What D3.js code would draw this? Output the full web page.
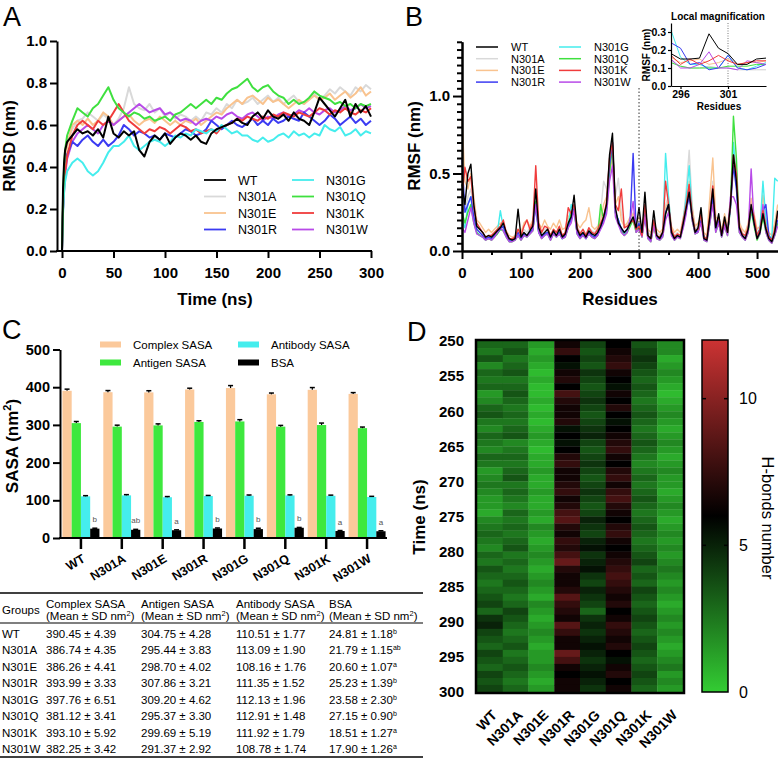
<!DOCTYPE html>
<html>
<head>
<meta charset="utf-8">
<script src="https://cdn.jsdelivr.net/npm/d3@7"></script>
<style>
body { margin: 0; background: #fff; }
svg { display: block; }
text { font-family: "Liberation Sans", Arial, Helvetica, sans-serif; }
</style>
</head>
<body>
<div id="fig"></div>
<script>
// ---------- shared ----------
var groups = ["WT", "N301A", "N301E", "N301R", "N301G", "N301Q", "N301K", "N301W"];
var groupColors = ["#000000", "#d9d9d9", "#f9c38f", "#3b3bf2", "#45eded", "#3fe03f", "#f03c3c", "#b84ae8"];

// ---------- A: RMSD ----------
var rmsdTime = [0,1,2,3,5,10,15,20,25,30,35,40,45,50,55,60,65,70,75,80,85,90,95,100,105,110,115,120,125,130,135,140,145,150,155,160,165,170,175,180,185,190,195,200,205,210,215,220,225,230,235,240,245,250,255,260,265,270,275,280,285,290,295,300];
var rmsdWT = [0,0.30,0.42,0.48,0.52, 0.55,0.58,0.56,0.57,0.55,0.58,0.54,0.64,0.56,0.54, 0.57,0.55,0.57,0.48,0.45,0.52,0.55,0.53,0.56,0.51, 0.54,0.56,0.55,0.53,0.55,0.52,0.51,0.56,0.58,0.59, 0.60,0.61,0.63,0.61,0.60,0.64,0.66,0.63,0.67,0.64, 0.63,0.65,0.62,0.66,0.63,0.62,0.60,0.66,0.73,0.70, 0.67,0.64,0.68,0.72,0.64,0.70,0.66,0.69,0.64];
var rmsdN301A = [0,0.25,0.38,0.45,0.52, 0.58,0.62,0.63,0.66,0.64,0.62,0.65,0.63,0.60,0.63, 0.68,0.78,0.70,0.68,0.67,0.70,0.66,0.68,0.64,0.66, 0.63,0.65,0.64,0.62,0.64,0.62,0.66,0.65,0.68,0.66, 0.70,0.68,0.72,0.70,0.71,0.73,0.70,0.72,0.74,0.71, 0.73,0.70,0.72,0.74,0.71,0.70,0.73,0.75,0.72,0.74, 0.77,0.75,0.78,0.76,0.74,0.78,0.76,0.79,0.77];
var rmsdN301E = [0,0.22,0.35,0.42,0.50, 0.60,0.62,0.60,0.63,0.60,0.62,0.66,0.64,0.60,0.62, 0.64,0.65,0.62,0.60,0.62,0.63,0.61,0.64,0.62,0.60, 0.62,0.60,0.62,0.61,0.63,0.60,0.62,0.64,0.66,0.65, 0.68,0.70,0.72,0.70,0.73,0.74,0.72,0.70,0.73,0.71, 0.72,0.70,0.68,0.70,0.72,0.70,0.72,0.74,0.72,0.73, 0.75,0.72,0.74,0.76,0.73,0.75,0.78,0.74,0.76];
var rmsdN301R = [0,0.20,0.32,0.40,0.46, 0.52,0.50,0.53,0.55,0.52,0.50,0.53,0.50,0.52,0.55, 0.60,0.58,0.55,0.57,0.56,0.54,0.55,0.53,0.56,0.55, 0.54,0.56,0.58,0.57,0.55,0.56,0.58,0.62,0.60,0.58, 0.60,0.62,0.60,0.59,0.61,0.63,0.60,0.62,0.60,0.63, 0.61,0.62,0.64,0.63,0.62,0.66,0.64,0.62,0.60,0.62, 0.65,0.63,0.60,0.62,0.64,0.61,0.63,0.60,0.62];
var rmsdN301G = [0,0.18,0.28,0.33,0.38, 0.42,0.44,0.42,0.38,0.36,0.38,0.42,0.47,0.50,0.50, 0.52,0.55,0.50,0.48,0.50,0.52,0.53,0.52,0.50,0.52, 0.55,0.54,0.56,0.55,0.58,0.57,0.56,0.58,0.57,0.60, 0.58,0.56,0.57,0.55,0.55,0.53,0.52,0.54,0.52,0.53, 0.55,0.56,0.54,0.57,0.55,0.56,0.54,0.56,0.55,0.60, 0.58,0.57,0.59,0.55,0.56,0.58,0.55,0.57,0.56];
var rmsdN301Q = [0,0.25,0.40,0.48,0.55, 0.62,0.68,0.66,0.64,0.68,0.70,0.74,0.78,0.72,0.68, 0.66,0.64,0.66,0.65,0.63,0.64,0.62,0.63,0.64,0.62, 0.65,0.66,0.68,0.70,0.68,0.70,0.72,0.70,0.73,0.72, 0.75,0.77,0.78,0.80,0.82,0.78,0.76,0.78,0.79,0.76, 0.74,0.73,0.70,0.72,0.70,0.71,0.73,0.76,0.74,0.73, 0.72,0.70,0.71,0.69,0.70,0.68,0.70,0.69,0.70];
var rmsdN301K = [0,0.20,0.30,0.38,0.45, 0.55,0.60,0.62,0.60,0.58,0.62,0.60,0.62,0.66,0.70, 0.66,0.62,0.60,0.58,0.56,0.58,0.57,0.59,0.58,0.56, 0.58,0.60,0.59,0.57,0.58,0.56,0.57,0.58,0.56,0.59, 0.60,0.61,0.63,0.62,0.64,0.63,0.62,0.64,0.63,0.65, 0.64,0.66,0.65,0.64,0.66,0.65,0.64,0.66,0.68,0.67, 0.65,0.67,0.66,0.68,0.66,0.65,0.67,0.66,0.68];
var rmsdN301W = [0,0.20,0.28,0.36,0.44, 0.52,0.56,0.58,0.60,0.58,0.56,0.60,0.62,0.60,0.62, 0.64,0.66,0.68,0.70,0.68,0.66,0.67,0.68,0.65,0.66, 0.64,0.62,0.63,0.62,0.60,0.62,0.63,0.62,0.64,0.63, 0.65,0.66,0.64,0.63,0.65,0.66,0.64,0.62,0.64,0.63, 0.65,0.66,0.64,0.65,0.67,0.66,0.68,0.66,0.65,0.67, 0.68,0.66,0.67,0.69,0.67,0.68,0.70,0.68,0.69];

// ---------- B: RMSF ----------
var rmsfResidue = [0,5,10,15,20,25,30,35,40,45,50,55,60,65,70,75,80,85,90,95,100,105,110,115,120,125,130,135,140,145,150,155,160,165,170,175,180,185,190,195,200,205,210,215,220,225,230,235,240,245,250,255,260,265,270,275,280,285,290,295,300,305,310,315,320,325,330,335,340,345,350,355,360,365,370,375,380,385,390,395,400,405,410,415,420,425,430,435,440,445,450,455,460,465,470,475,480,485,490,495,500,505,510,515,520,525,530,535];
var rmsfWT = [0.43,0.30,0.50,0.56,0.30,0.16,0.14,0.12,0.09,0.10, 0.09,0.11,0.13,0.15,0.18,0.12,0.08,0.07,0.08,0.27, 0.09,0.12,0.10,0.13,0.16,0.40,0.15,0.10,0.12,0.14, 0.09,0.13,0.10,0.14,0.09,0.11,0.18,0.22,0.36,0.14, 0.10,0.12,0.09,0.13,0.11,0.10,0.12,0.16,0.22,0.30, 0.62,0.76,0.28,0.18,0.15,0.12,0.14,0.18,0.22,0.15, 0.28,0.12,0.38,0.10,0.08,0.26,0.10,0.08,0.12,0.24, 0.30,0.12,0.08,0.10,0.09,0.18,0.28,0.38,0.22,0.12, 0.15,0.28,0.08,0.07,0.22,0.40,0.15,0.24,0.10,0.22, 0.12,0.30,0.62,0.45,0.15,0.10,0.08,0.14,0.30,0.18, 0.08,0.12,0.24,0.14,0.08,0.06,0.12,0.26];
var rmsfN301A = [0.30,0.25,0.35,0.40,0.25,0.15,0.12,0.10,0.08,0.09, 0.10,0.12,0.14,0.16,0.15,0.11,0.08,0.08,0.09,0.12, 0.10,0.14,0.12,0.15,0.18,0.35,0.16,0.12,0.14,0.15, 0.10,0.14,0.12,0.15,0.10,0.12,0.20,0.24,0.30,0.16, 0.12,0.14,0.11,0.15,0.13,0.12,0.15,0.25,0.45,0.40, 0.55,0.65,0.35,0.47,0.25,0.15,0.16,0.20,0.25,0.14, 0.20,0.10,0.30,0.12,0.10,0.20,0.12,0.10,0.14,0.30, 0.35,0.14,0.10,0.12,0.10,0.20,0.40,0.65,0.30,0.14, 0.16,0.22,0.10,0.08,0.25,0.45,0.18,0.22,0.12,0.20, 0.14,0.35,0.68,0.50,0.20,0.12,0.10,0.16,0.30,0.22, 0.12,0.14,0.28,0.16,0.10,0.08,0.14,0.22];
var rmsfN301E = [0.86,0.45,0.40,0.50,0.35,0.20,0.18,0.15,0.12,0.14, 0.12,0.14,0.16,0.18,0.15,0.13,0.10,0.09,0.10,0.14, 0.12,0.18,0.20,0.16,0.20,0.30,0.18,0.15,0.20,0.16, 0.14,0.18,0.15,0.20,0.14,0.15,0.22,0.25,0.28,0.18, 0.15,0.18,0.20,0.28,0.16,0.14,0.16,0.20,0.30,0.35, 0.50,0.60,0.30,0.35,0.20,0.16,0.18,0.22,0.24,0.18, 0.22,0.14,0.28,0.14,0.12,0.18,0.14,0.12,0.14,0.28, 0.32,0.16,0.12,0.14,0.12,0.22,0.32,0.45,0.28,0.16, 0.18,0.22,0.12,0.10,0.35,0.60,0.22,0.20,0.14,0.24, 0.16,0.32,0.55,0.45,0.18,0.14,0.12,0.18,0.34,0.24, 0.14,0.16,0.36,0.20,0.12,0.10,0.18,0.30];
var rmsfN301R = [0.60,0.25,0.30,0.35,0.22,0.14,0.12,0.10,0.08,0.09, 0.08,0.10,0.12,0.14,0.16,0.10,0.07,0.07,0.08,0.12, 0.08,0.11,0.10,0.12,0.14,0.30,0.12,0.09,0.11,0.12, 0.08,0.12,0.10,0.12,0.08,0.10,0.16,0.20,0.28,0.12, 0.09,0.11,0.08,0.12,0.10,0.09,0.11,0.15,0.20,0.28, 0.55,0.70,0.25,0.20,0.14,0.12,0.14,0.20,0.63,0.14, 0.18,0.10,0.25,0.09,0.07,0.18,0.09,0.08,0.10,0.25, 0.30,0.12,0.08,0.10,0.09,0.18,0.26,0.35,0.22,0.12, 0.13,0.20,0.08,0.07,0.20,0.35,0.14,0.20,0.10,0.18, 0.12,0.28,0.55,0.40,0.14,0.10,0.08,0.14,0.28,0.18, 0.10,0.14,0.26,0.30,0.10,0.07,0.12,0.20];
var rmsfN301G = [0.20,0.15,0.30,0.35,0.20,0.12,0.10,0.09,0.08,0.09, 0.08,0.10,0.12,0.26,0.15,0.10,0.07,0.07,0.08,0.10, 0.08,0.11,0.09,0.12,0.14,0.28,0.12,0.09,0.11,0.12, 0.08,0.12,0.09,0.12,0.08,0.10,0.16,0.30,0.25,0.12, 0.09,0.11,0.08,0.12,0.10,0.09,0.11,0.15,0.20,0.28, 0.55,0.70,0.25,0.20,0.14,0.11,0.13,0.18,0.20,0.13, 0.16,0.10,0.25,0.09,0.07,0.20,0.09,0.08,0.10,0.63, 0.35,0.12,0.08,0.10,0.09,0.20,0.35,0.55,0.25,0.12, 0.14,0.22,0.08,0.07,0.20,0.38,0.14,0.20,0.10,0.18, 0.12,0.30,0.70,0.45,0.14,0.10,0.08,0.14,0.26,0.20, 0.10,0.15,0.45,0.20,0.10,0.08,0.47,0.45];
var rmsfN301Q = [0.25,0.18,0.25,0.30,0.18,0.12,0.10,0.09,0.07,0.08, 0.07,0.09,0.11,0.14,0.13,0.09,0.06,0.06,0.07,0.10, 0.07,0.10,0.09,0.11,0.13,0.32,0.12,0.08,0.10,0.11, 0.07,0.11,0.09,0.11,0.08,0.09,0.15,0.24,0.28,0.11, 0.08,0.10,0.08,0.11,0.09,0.08,0.10,0.30,0.20,0.26, 0.50,0.68,0.24,0.18,0.13,0.10,0.12,0.16,0.20,0.12, 0.16,0.09,0.24,0.08,0.06,0.16,0.08,0.07,0.09,0.24, 0.30,0.11,0.07,0.09,0.08,0.16,0.28,0.40,0.20,0.11, 0.12,0.20,0.07,0.06,0.18,0.32,0.12,0.18,0.09,0.16, 0.10,0.28,0.87,0.60,0.12,0.09,0.07,0.12,0.26,0.16, 0.07,0.11,0.22,0.12,0.07,0.05,0.10,0.18];
var rmsfN301K = [0.35,0.54,0.45,0.48,0.28,0.18,0.15,0.12,0.09,0.10, 0.10,0.12,0.14,0.16,0.20,0.12,0.08,0.08,0.09,0.14, 0.10,0.16,0.20,0.14,0.18,0.55,0.18,0.12,0.16,0.15, 0.10,0.14,0.12,0.16,0.10,0.12,0.28,0.24,0.30,0.15, 0.11,0.14,0.10,0.15,0.12,0.11,0.14,0.18,0.22,0.32, 0.60,0.70,0.30,0.26,0.40,0.15,0.16,0.18,0.20,0.14, 0.16,0.10,0.30,0.10,0.08,0.20,0.10,0.09,0.12,0.45, 0.30,0.14,0.09,0.11,0.10,0.20,0.30,0.43,0.24,0.13, 0.14,0.24,0.09,0.08,0.24,0.42,0.16,0.22,0.11,0.20, 0.12,0.30,0.62,0.50,0.16,0.11,0.10,0.15,0.28,0.22, 0.10,0.14,0.26,0.16,0.09,0.07,0.14,0.24];
var rmsfN301W = [0.15,0.12,0.20,0.28,0.18,0.11,0.10,0.09,0.07,0.08, 0.07,0.09,0.12,0.15,0.13,0.09,0.06,0.06,0.07,0.10, 0.07,0.10,0.09,0.11,0.13,0.30,0.12,0.08,0.10,0.11, 0.07,0.11,0.09,0.11,0.08,0.09,0.15,0.18,0.26,0.11, 0.08,0.10,0.08,0.11,0.09,0.08,0.10,0.14,0.18,0.24, 0.45,0.55,0.22,0.17,0.12,0.10,0.12,0.20,0.32,0.12, 0.14,0.09,0.22,0.08,0.06,0.16,0.08,0.07,0.09,0.20, 0.25,0.10,0.07,0.09,0.08,0.15,0.24,0.42,0.20,0.11, 0.12,0.18,0.07,0.06,0.18,0.30,0.12,0.18,0.09,0.16, 0.10,0.35,0.35,0.30,0.12,0.09,0.07,0.12,0.53,0.18, 0.08,0.11,0.30,0.12,0.07,0.05,0.10,0.16];

// inset (local magnification)
var insetResidue = [295,296,297,298,299,300,301,302,303,304,305];
var insetWT    = [0.18,0.15,0.15,0.155,0.29,0.21,0.18,0.12,0.12,0.15,0.155];
var insetN301A = [0.14,0.11,0.10,0.10,0.11,0.10,0.10,0.09,0.09,0.09,0.09];
var insetN301E = [0.16,0.13,0.14,0.15,0.12,0.13,0.15,0.12,0.13,0.13,0.14];
var insetN301R = [0.24,0.21,0.12,0.13,0.09,0.10,0.17,0.10,0.09,0.10,0.12];
var insetN301G = [0.31,0.16,0.12,0.12,0.10,0.10,0.17,0.10,0.09,0.11,0.13];
var insetN301Q = [0.13,0.11,0.10,0.10,0.10,0.10,0.11,0.11,0.11,0.12,0.12];
var insetN301K = [0.17,0.12,0.15,0.12,0.14,0.17,0.14,0.12,0.13,0.14,0.14];
var insetN301W = [0.15,0.10,0.10,0.12,0.19,0.10,0.10,0.09,0.14,0.13,0.12];

// ---------- C: SASA ----------
var sasaSeries = ["Complex SASA", "Antigen SASA", "Antibody SASA", "BSA"];
var sasaColors = ["#fbc99b", "#3ee83e", "#45eded", "#000000"];
var complexMean  = [390.45, 386.74, 386.26, 393.99, 397.76, 381.12, 393.10, 382.25];
var complexSD    = [4.39, 4.35, 4.41, 3.33, 6.51, 3.41, 5.92, 3.42];
var antigenMean  = [304.75, 295.44, 298.70, 307.86, 309.20, 295.37, 299.69, 291.37];
var antigenSD    = [4.28, 3.83, 4.02, 3.21, 4.62, 3.30, 5.19, 2.92];
var antibodyMean = [110.51, 113.09, 108.16, 111.35, 112.13, 112.91, 111.92, 108.78];
var antibodySD   = [1.77, 1.90, 1.76, 1.52, 1.96, 1.48, 1.79, 1.74];
var bsaMean      = [24.81, 21.79, 20.60, 25.23, 23.58, 27.15, 18.51, 17.90];
var bsaSD        = [1.18, 1.15, 1.07, 1.39, 2.30, 0.90, 1.27, 1.26];
var bsaLetters   = ["b", "ab", "a", "b", "b", "b", "a", "a"];

// ---------- D: H-bonds heatmap ----------
var hbTime = [250,251,252,253,254,255,256,257,258,259,260,261,262,263,264,265,266,267,268,269,270,271,272,273,274,275,276,277,278,279,280,281,282,283,284,285,286,287,288,289,290,291,292,293,294,295,296,297,298,299];
var hbWT    = [3,2.5,3.5,2,3,2.5,3,1.5,2,3, 3.5,2.5,2,3,2.5,2,3,2.5,1.5,2, 2.5,2,1.5,1.5,1,2,2.5,3,2.5,2, 3,2.5,3.5,3,2.5,3,3.5,4,3,4.5, 5,4,3.5,3,4,3.5,3,4,3.5,4];
var hbN301A = [3,3.5,2.5,3,3.5,2.5,3,3.5,3,2.5, 3,2.5,3,3.5,2,2.5,3,2.5,3,3.5, 2.5,3,2.5,2,3,2.5,3,2.5,3,3.5, 2.5,3,2.5,3,3.5,3,2.5,3,4,3.5, 3,2.5,3,3.5,2.5,3,3.5,3,2.5,3];
var hbN301E = [1.5,1,1.5,1,0.5,1,0.5,0.5,1,0.5, 1,0.5,1,1.5,1,0.5,1,1,1.5,1, 1,1.5,1,1,1.5,1,2,1.5,1,1.5, 2,1.5,1,1.5,2,1.5,1,2,1.5,1, 1.5,2,1.5,1,1.5,1.5,2,1.5,1,1.5];
var hbN301R = [6.5,7.5,6,5.5,6.5,7,6,8,7,6.5, 6.5,7,5.5,6,5.5,6,7,7.5,6.5,6.5, 7,7.5,6.5,7,8,8.5,7,6.5,7.5,7, 8,9,7,6.5,6.5,7,8.5,7.5,7,6.5, 8.5,7.5,6.5,6.5,9,8,6.5,6,6.5,6.5];
var hbN301G = [4,3.5,4,3.5,4.5,4,3.5,4,4.5,4, 3.5,4,4.5,5,4,3.5,4,4.5,4,3.5, 4,4.5,4,3.5,4,5,4.5,4,5,5.5, 4.5,5,5.5,4.5,4,5,4.5,4,3,4.5, 5,4.5,5,5.5,5,4.5,5,5.5,5,4.5];
var hbN301Q = [6,6.5,7,7.5,6.5,6,5.5,6.5,6,7, 6,5.5,6,6.5,7,7.5,6.5,6,7,7.5, 6.5,7.5,8,7,6.5,6,7,7.5,6.5,6, 6.5,7,7.5,8,7.5,7,6.5,7,6,6.5, 7.5,7,6.5,7,6,5.5,6.5,7,6,6.5];
var hbN301K = [3.5,4,4.5,4,3.5,3,3.5,3,2.5,3, 3.5,3,2.5,3,3.5,3,2.5,2,2.5,3, 2.5,3,3.5,3,2.5,3,3.5,3,2.5,3, 3.5,4,3,3.5,3,4,3.5,3,3.5,4, 3.5,3,3.5,4,3.5,3,3.5,4,3.5,3];
var hbN301W = [2,2,1,1.5,2,1.5,1,0.5,1,1.5, 2,1.5,1,1.5,2,1.5,1,1.5,2,1.5, 1.5,1,1.5,2,1.5,1,1.5,2,1.5,2, 1.5,2,2.5,2,1.5,2,1.5,1,1.5,2, 1.5,2,1.5,1,1.5,2,2.5,1.5,2,1.5];
var hbTicks = [250,255,260,265,270,275,280,285,290,295,300];

var rmsdSeries = [rmsdWT, rmsdN301A, rmsdN301E, rmsdN301R, rmsdN301G, rmsdN301Q, rmsdN301K, rmsdN301W];
var rmsfSeries = [rmsfWT, rmsfN301A, rmsfN301E, rmsfN301R, rmsfN301G, rmsfN301Q, rmsfN301K, rmsfN301W];
var insetSeries = [insetWT, insetN301A, insetN301E, insetN301R, insetN301G, insetN301Q, insetN301K, insetN301W];
var hbSeries = [hbWT, hbN301A, hbN301E, hbN301R, hbN301G, hbN301Q, hbN301K, hbN301W];

var svg = d3.select("#fig").append("svg")
    .attr("width", 778)
    .attr("height", 759);

function styleAxis(g, size, weight, sw) {
    g.selectAll("path, line").attr("stroke", "#000").attr("stroke-width", sw || 2);
    g.selectAll("text").attr("font-size", size).attr("font-weight", weight).attr("fill", "#000");
}

// panel letters
[["A", 3, 26], ["B", 405, 26], ["C", 2, 339], ["D", 407, 341]].forEach(function(p) {
    svg.append("text").attr("x", p[1]).attr("y", p[2])
        .attr("font-size", 27).text(p[0]);
});

// ================= Panel A =================
var xA = d3.scaleLinear().domain([0, 300]).range([62, 371]);
var yA = d3.scaleLinear().domain([0, 1]).range([251, 41]);
var lineA = d3.line()
    .x(function(d, i) { return xA(rmsdTime[i]); })
    .y(function(d) { return yA(d); });

var orderA = [1, 2, 7, 3, 6, 4, 5, 0];
orderA.forEach(function(k) {
    svg.append("path")
        .datum(rmsdSeries[k])
        .attr("fill", "none")
        .attr("stroke", groupColors[k])
        .attr("stroke-width", 2)
        .attr("stroke-linejoin", "round")
        .attr("d", lineA);
});

var gAy = svg.append("g").attr("transform", "translate(57,0)")
    .call(d3.axisLeft(yA).tickValues([0, 0.2, 0.4, 0.6, 0.8, 1.0])
        .tickFormat(d3.format(".1f")).tickSize(7).tickSizeOuter(0).tickPadding(3));
styleAxis(gAy, 15, "bold");
var gAx = svg.append("g").attr("transform", "translate(0,251)")
    .call(d3.axisBottom(xA).tickValues([0, 50, 100, 150, 200, 250, 300])
        .tickSize(7).tickSizeOuter(0).tickPadding(9));
gAx.select(".domain").attr("d", "M56,0H372");
styleAxis(gAx, 15, "bold");

svg.append("text").attr("x", 215).attr("y", 305).attr("text-anchor", "middle")
    .attr("font-size", 17).attr("font-weight", "bold").text("Time (ns)");
svg.append("text").attr("transform", "translate(15,146) rotate(-90)").attr("text-anchor", "middle")
    .attr("font-size", 17).attr("font-weight", "bold").text("RMSD (nm)");

// legend A
groups.forEach(function(name, i) {
    var col = Math.floor(i / 4), row = i % 4;
    var lx = col === 0 ? 204 : 292;
    var ly = 180 + row * 16.5;
    svg.append("line").attr("x1", lx).attr("x2", lx + 22).attr("y1", ly).attr("y2", ly)
        .attr("stroke", groupColors[i]).attr("stroke-width", 1.8);
    svg.append("text").attr("x", lx + 34).attr("y", ly + 4.5)
        .attr("font-size", 12.5).text(name);
});

// ================= Panel B =================
var xB = d3.scaleLinear().domain([0, 535]).range([462, 777.7]);
var yB = d3.scaleLinear().domain([0, 1.35]).range([251, 41.8]);
var lineB = d3.line()
    .x(function(d, i) { return xB(rmsfResidue[i]); })
    .y(function(d) { return yB(d); });

var orderB = [1, 2, 4, 5, 3, 7, 6, 0];
orderB.forEach(function(k) {
    svg.append("path")
        .datum(rmsfSeries[k])
        .attr("fill", "none")
        .attr("stroke", groupColors[k])
        .attr("stroke-width", 1.4)
        .attr("stroke-linejoin", "round")
        .attr("d", lineB);
});

// dotted marker at residue 300
svg.append("line").attr("x1", xB(300)).attr("x2", xB(300)).attr("y1", 88).attr("y2", 251)
    .attr("stroke", "#333").attr("stroke-width", 1).attr("stroke-dasharray", "1.5,2");

var gBy = svg.append("g").attr("transform", "translate(462,0)")
    .call(d3.axisLeft(yB).tickValues([0, 0.5, 1.0]).tickFormat(d3.format(".1f"))
        .tickSize(9).tickSizeOuter(0).tickPadding(3));
styleAxis(gBy, 15, "bold");
var bMinor = [0.05,0.1,0.15,0.2,0.25,0.3,0.35,0.4,0.45,0.55,0.6,0.65,0.7,0.75,0.8,0.85,0.9,0.95,1.05,1.1,1.15,1.2,1.25,1.3,1.35];
var gBym = svg.append("g").attr("transform", "translate(462,0)")
    .call(d3.axisLeft(yB).tickValues(bMinor).tickFormat("").tickSize(5).tickSizeOuter(0));
styleAxis(gBym, 10, "normal");

var gBx = svg.append("g").attr("transform", "translate(0,251)")
    .call(d3.axisBottom(xB).tickValues([0, 100, 200, 300, 400, 500])
        .tickSize(8).tickSizeOuter(0).tickPadding(8));
styleAxis(gBx, 15, "bold");
var gBxm = svg.append("g").attr("transform", "translate(0,251)")
    .call(d3.axisBottom(xB).tickValues([50, 150, 250, 350, 450]).tickFormat("")
        .tickSize(4).tickSizeOuter(0));
styleAxis(gBxm, 10, "normal");

svg.append("text").attr("x", 620).attr("y", 305).attr("text-anchor", "middle")
    .attr("font-size", 17).attr("font-weight", "bold").text("Residues");
svg.append("text").attr("transform", "translate(420,146) rotate(-90)").attr("text-anchor", "middle")
    .attr("font-size", 17).attr("font-weight", "bold").text("RMSF (nm)");

// legend B
groups.forEach(function(name, i) {
    var col = Math.floor(i / 4), row = i % 4;
    var lx = col === 0 ? 476 : 559;
    var ly = 47 + row * 11.7;
    svg.append("line").attr("x1", lx).attr("x2", lx + 22).attr("y1", ly).attr("y2", ly)
        .attr("stroke", groupColors[i]).attr("stroke-width", 1.5);
    svg.append("text").attr("x", lx + 35).attr("y", ly + 4)
        .attr("font-size", 11).text(name);
});

// inset
var xI = d3.scaleLinear().domain([295, 305]).range([671, 766]);
var yI = d3.scaleLinear().domain([0, 0.35]).range([86, 23]);
var lineI = d3.line()
    .x(function(d, i) { return xI(insetResidue[i]); })
    .y(function(d) { return yI(d); });
svg.append("line").attr("x1", xI(301)).attr("x2", xI(301)).attr("y1", 23).attr("y2", 86)
    .attr("stroke", "#555").attr("stroke-width", 0.8).attr("stroke-dasharray", "1,1.5");
orderB.forEach(function(k) {
    svg.append("path")
        .datum(insetSeries[k])
        .attr("fill", "none")
        .attr("stroke", groupColors[k] === "#d9d9d9" ? "#cfcfcf" : groupColors[k])
        .attr("stroke-width", 1)
        .attr("d", lineI);
});
var gIy = svg.append("g").attr("transform", "translate(671,0)")
    .call(d3.axisLeft(yI).tickValues([0, 0.1, 0.2, 0.3]).tickFormat(d3.format(".1f"))
        .tickSize(3).tickSizeOuter(0).tickPadding(2));
styleAxis(gIy, 10.5, "bold", 1.2);
var gIx = svg.append("g").attr("transform", "translate(0,86)")
    .call(d3.axisBottom(xI).tickValues([296, 301]).tickSize(3).tickSizeOuter(0).tickPadding(2));
styleAxis(gIx, 10.5, "bold", 1.2);
svg.append("text").attr("x", 718).attr("y", 20).attr("text-anchor", "middle")
    .attr("font-size", 10).attr("font-weight", "bold").text("Local magnification");
svg.append("text").attr("x", 719).attr("y", 110).attr("text-anchor", "middle")
    .attr("font-size", 10).attr("font-weight", "bold").text("Residues");
svg.append("text").attr("transform", "translate(650,55) rotate(-90)").attr("text-anchor", "middle")
    .attr("font-size", 10).attr("font-weight", "bold").text("RMSF (nm)");

// ================= Panel C =================
var sasaMeans = [complexMean, antigenMean, antibodyMean, bsaMean];
var sasaSDs = [complexSD, antigenSD, antibodySD, bsaSD];
var xC = d3.scaleBand().domain(groups).range([60.5, 387.5]).padding(0);
var xCin = d3.scaleBand().domain(sasaSeries).range([-18.5, 18.5]).padding(0);
var yC = d3.scaleLinear().domain([0, 500]).range([538, 349.5]);

groups.forEach(function(gname, gi) {
    var cx = xC(gname) + xC.bandwidth() / 2;
    sasaSeries.forEach(function(s, si) {
        var m = sasaMeans[si][gi], sd = sasaSDs[si][gi];
        var bx = cx + xCin(s);
        svg.append("rect").attr("x", bx).attr("y", yC(m))
            .attr("width", xCin.bandwidth()).attr("height", yC(0) - yC(m))
            .attr("fill", sasaColors[si]);
        var ex = bx + xCin.bandwidth() / 2;
        svg.append("line").attr("x1", ex).attr("x2", ex).attr("y1", yC(m)).attr("y2", yC(m + sd))
            .attr("stroke", "#000").attr("stroke-width", 1.2);
        svg.append("line").attr("x1", ex - 2.5).attr("x2", ex + 2.5).attr("y1", yC(m + sd)).attr("y2", yC(m + sd))
            .attr("stroke", "#000").attr("stroke-width", 1.5);
        if (si === 3) {
            svg.append("text").attr("x", ex).attr("y", yC(m + sd) - 6)
                .attr("text-anchor", "middle").attr("font-size", 8).attr("fill", "#555")
                .text(bsaLetters[gi]);
        }
    });
});

var gCy = svg.append("g").attr("transform", "translate(60,0)")
    .call(d3.axisLeft(yC).tickValues([0, 100, 200, 300, 400, 500]).tickSize(7).tickSizeOuter(0).tickPadding(3));
styleAxis(gCy, 14.5, "bold");
var gCx = svg.append("g").attr("transform", "translate(0,538)")
    .call(d3.axisBottom(xC).tickSize(11).tickSizeOuter(0).tickFormat(""));
gCx.select(".domain").attr("d", "M59,0H387");
styleAxis(gCx, 12, "bold");
gCx.selectAll(".tick line").attr("stroke-width", 2.5);
groups.forEach(function(gname) {
    var cx = xC(gname) + xC.bandwidth() / 2;
    svg.append("text").attr("transform", "translate(" + (cx + 5) + ",561) rotate(-31)")
        .attr("text-anchor", "end").attr("font-size", 12.5).attr("font-weight", "bold").text(gname);
});

var yLabC = svg.append("text").attr("transform", "translate(18,446) rotate(-90)").attr("text-anchor", "middle")
    .attr("font-size", 17).attr("font-weight", "bold");
yLabC.append("tspan").text("SASA (nm");
yLabC.append("tspan").attr("dy", -7).attr("font-size", 11).text("2");
yLabC.append("tspan").attr("dy", 7).text(")");

// legend C
sasaSeries.forEach(function(s, i) {
    var col = (i === 0 || i === 1) ? 0 : 1;
    var row = (i === 0 || i === 2) ? 0 : 1;
    var x0 = col === 0 ? 100 : 238;
    var y0 = row === 0 ? 344.5 : 362.5;
    svg.append("rect").attr("x", x0).attr("y", y0 - 3).attr("width", 21).attr("height", 6)
        .attr("fill", sasaColors[i]);
    svg.append("text").attr("x", x0 + 33).attr("y", y0 + 4).attr("font-size", 11.5).text(s);
});

// table
var tableCols = [2, 46, 141, 236, 329];
svg.append("line").attr("x1", 0).attr("x2", 423).attr("y1", 593).attr("y2", 593).attr("stroke", "#000").attr("stroke-width", 1.5);
svg.append("line").attr("x1", 0).attr("x2", 423).attr("y1", 623).attr("y2", 623).attr("stroke", "#000").attr("stroke-width", 1.2);
svg.append("line").attr("x1", 0).attr("x2", 423).attr("y1", 757).attr("y2", 757).attr("stroke", "#000").attr("stroke-width", 1.5);
svg.append("text").attr("x", tableCols[0]).attr("y", 614).attr("font-size", 11.5).text("Groups");
var headNames = ["Complex SASA", "Antigen SASA", "Antibody SASA", "BSA"];
headNames.forEach(function(h, i) {
    svg.append("text").attr("x", tableCols[i + 1]).attr("y", 607.5).attr("font-size", 11.5).text(h);
    var t = svg.append("text").attr("x", tableCols[i + 1]).attr("y", 620).attr("font-size", 11.5);
    t.append("tspan").text("(Mean \u00b1 SD nm");
    t.append("tspan").attr("dy", -4).attr("font-size", 7.5).text("2");
    t.append("tspan").attr("dy", 4).text(")");
});
groups.forEach(function(gname, gi) {
    var y = 638 + gi * 16.45;
    svg.append("text").attr("x", tableCols[0]).attr("y", y).attr("font-size", 11.5).text(gname);
    sasaMeans.forEach(function(arr, si) {
        var t = svg.append("text").attr("x", tableCols[si + 1]).attr("y", y).attr("font-size", 11.5);
        t.append("tspan").text(arr[gi].toFixed(2) + " \u00b1 " + sasaSDs[si][gi].toFixed(2));
        if (si === 3) {
            t.append("tspan").attr("dy", -4).attr("font-size", 7).text(bsaLetters[gi]);
        }
    });
});

// ================= Panel D =================
var xD = d3.scaleBand().domain(groups).range([477, 683]);
var yD = d3.scaleLinear().domain([250, 300]).range([341, 692]);
var hbColor = d3.scaleLinear().domain([0, 6, 12]).range(["#33cc33", "#000000", "#cc3333"]);

groups.forEach(function(gname, gi) {
    hbSeries[gi].forEach(function(v, ri) {
        var t = hbTime[ri];
        svg.append("rect")
            .attr("x", xD(gname))
            .attr("y", yD(t))
            .attr("width", xD.bandwidth() + 0.3)
            .attr("height", yD(t + 1) - yD(t) + 0.3)
            .attr("fill", hbColor(v));
    });
});
svg.append("rect").attr("x", 476).attr("y", 340).attr("width", 208).attr("height", 353)
    .attr("fill", "none").attr("stroke", "#000").attr("stroke-width", 2.5);

var gDy = svg.append("g").attr("transform", "translate(476,0)")
    .call(d3.axisLeft(yD).tickValues(hbTicks).tickSize(0).tickPadding(12));
gDy.select(".domain").remove();
styleAxis(gDy, 15, "bold");
groups.forEach(function(gname) {
    var cx = xD(gname) + xD.bandwidth() / 2;
    svg.append("text").attr("transform", "translate(" + (cx + 8) + ",716) rotate(-45)")
        .attr("text-anchor", "end").attr("font-size", 14).attr("font-weight", "bold").text(gname);
});
svg.append("text").attr("transform", "translate(425,517) rotate(-90)").attr("text-anchor", "middle")
    .attr("font-size", 17).attr("font-weight", "bold").text("Time (ns)");

// colour bar
var yCB = d3.scaleLinear().domain([0, 12]).range([692, 340]);
var grad = svg.append("defs").append("linearGradient").attr("id", "hbgrad")
    .attr("x1", 0).attr("y1", 1).attr("x2", 0).attr("y2", 0);
[0, 6, 12].forEach(function(v) {
    grad.append("stop").attr("offset", (v / 12 * 100) + "%").attr("stop-color", hbColor(v));
});
svg.append("rect").attr("x", 702).attr("y", 340).attr("width", 26).attr("height", 352)
    .attr("fill", "url(#hbgrad)").attr("stroke", "#000").attr("stroke-width", 1.5);
[0, 5, 10].forEach(function(v) {
    if (v > 0) {
        svg.append("line").attr("x1", 702).attr("x2", 706).attr("y1", yCB(v)).attr("y2", yCB(v)).attr("stroke", "#000").attr("stroke-width", 1.5);
        svg.append("line").attr("x1", 724).attr("x2", 728).attr("y1", yCB(v)).attr("y2", yCB(v)).attr("stroke", "#000").attr("stroke-width", 1.5);
    }
    svg.append("text").attr("x", 739).attr("y", yCB(v)).attr("dy", "0.36em")
        .attr("font-size", 16).text(v);
});
svg.append("text").attr("transform", "translate(762,518) rotate(90)").attr("text-anchor", "middle")
    .attr("font-size", 16.5).text("H-bonds number");
</script>
</body>
</html>
